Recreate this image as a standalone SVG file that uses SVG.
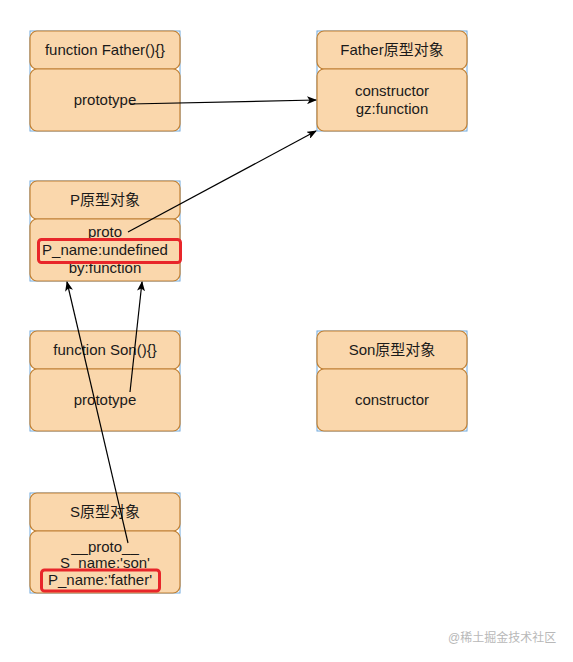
<svg xmlns="http://www.w3.org/2000/svg" width="573" height="662" viewBox="0 0 573 662">
<style>
.outer{fill:none;stroke:#6fa8dc;stroke-width:1}
.part{fill:#fad7ac;stroke:#c08034;stroke-width:1.2}
.t{font-family:"Liberation Sans","Noto Sans CJK SC",sans-serif;font-size:15px;fill:#1a1a1a;text-anchor:middle}
.hl{fill:none;stroke:#e8262a;stroke-width:3}
.edge{fill:none;stroke:#000;stroke-width:1.2}
.wm{font-family:"Liberation Sans","Noto Sans CJK SC",sans-serif;font-size:12px;fill:#b8b8b8}
</style>
<defs>
<marker id="ah" viewBox="0 0 10 8" refX="9" refY="4" markerWidth="10" markerHeight="8" markerUnits="userSpaceOnUse" orient="auto">
<path d="M0,0 L10,4 L0,8 L2.5,4 z" fill="#000"/>
</marker>
</defs>
<rect width="573" height="662" fill="#fff"/>

<g id="father-fn">
<rect class="outer" x="30" y="31" width="150" height="100"/>
<rect class="part" x="30" y="31" width="150" height="38" rx="7"/>
<rect class="part" x="30" y="69" width="150" height="62" rx="7"/>
<text class="t" x="105" y="55">function Father(){}</text>
<text class="t" x="105" y="105">prototype</text>
</g>

<g id="father-proto">
<rect class="outer" x="317" y="31" width="150" height="100"/>
<rect class="part" x="317" y="31" width="150" height="38" rx="7"/>
<rect class="part" x="317" y="69" width="150" height="62" rx="7"/>
<text class="t" x="392" y="55">Father原型对象</text>
<text class="t" x="392" y="96">constructor</text>
<text class="t" x="392" y="114">gz:function</text>
</g>

<g id="p-proto">
<rect class="outer" x="30" y="181" width="150" height="100"/>
<rect class="part" x="30" y="181" width="150" height="38" rx="7"/>
<rect class="part" x="30" y="219" width="150" height="62" rx="7"/>
<text class="t" x="105" y="205">P原型对象</text>
<text class="t" x="105" y="237">proto</text>
<text class="t" x="105" y="255">P_name:undefined</text>
<text class="t" x="105" y="273">by:function</text>
<rect class="hl" x="38.5" y="239.5" width="142" height="23" rx="3"/>
</g>

<g id="son-fn">
<rect class="outer" x="30" y="331" width="150" height="100"/>
<rect class="part" x="30" y="331" width="150" height="38" rx="7"/>
<rect class="part" x="30" y="369" width="150" height="62" rx="7"/>
<text class="t" x="105" y="355">function Son(){}</text>
<text class="t" x="105" y="405">prototype</text>
</g>

<g id="son-proto">
<rect class="outer" x="317" y="331" width="150" height="100"/>
<rect class="part" x="317" y="331" width="150" height="38" rx="7"/>
<rect class="part" x="317" y="369" width="150" height="62" rx="7"/>
<text class="t" x="392" y="355">Son原型对象</text>
<text class="t" x="392" y="405">constructor</text>
</g>

<g id="s-proto">
<rect class="outer" x="30" y="493" width="150" height="100"/>
<rect class="part" x="30" y="493" width="150" height="38" rx="7"/>
<rect class="part" x="30" y="531" width="150" height="62" rx="7"/>
<text class="t" x="105" y="517">S原型对象</text>
<text class="t" x="105" y="552">__proto__</text>
<text class="t" x="105" y="568">S_name:'son'</text>
<text class="t" x="100" y="585">P_name:'father'</text>
<rect class="hl" x="41.5" y="570" width="118" height="21" rx="3"/>
</g>

<g id="connectors">
<path class="edge" d="M130,104 L316,100" marker-end="url(#ah)"/>
<path class="edge" d="M128,232 L316,131" marker-end="url(#ah)"/>
<path class="edge" d="M130,392 L142,282" marker-end="url(#ah)"/>
<path class="edge" d="M128,543 L67,282" marker-end="url(#ah)"/>
</g>

<text class="wm" x="448" y="642">@稀土掘金技术社区</text>
</svg>
